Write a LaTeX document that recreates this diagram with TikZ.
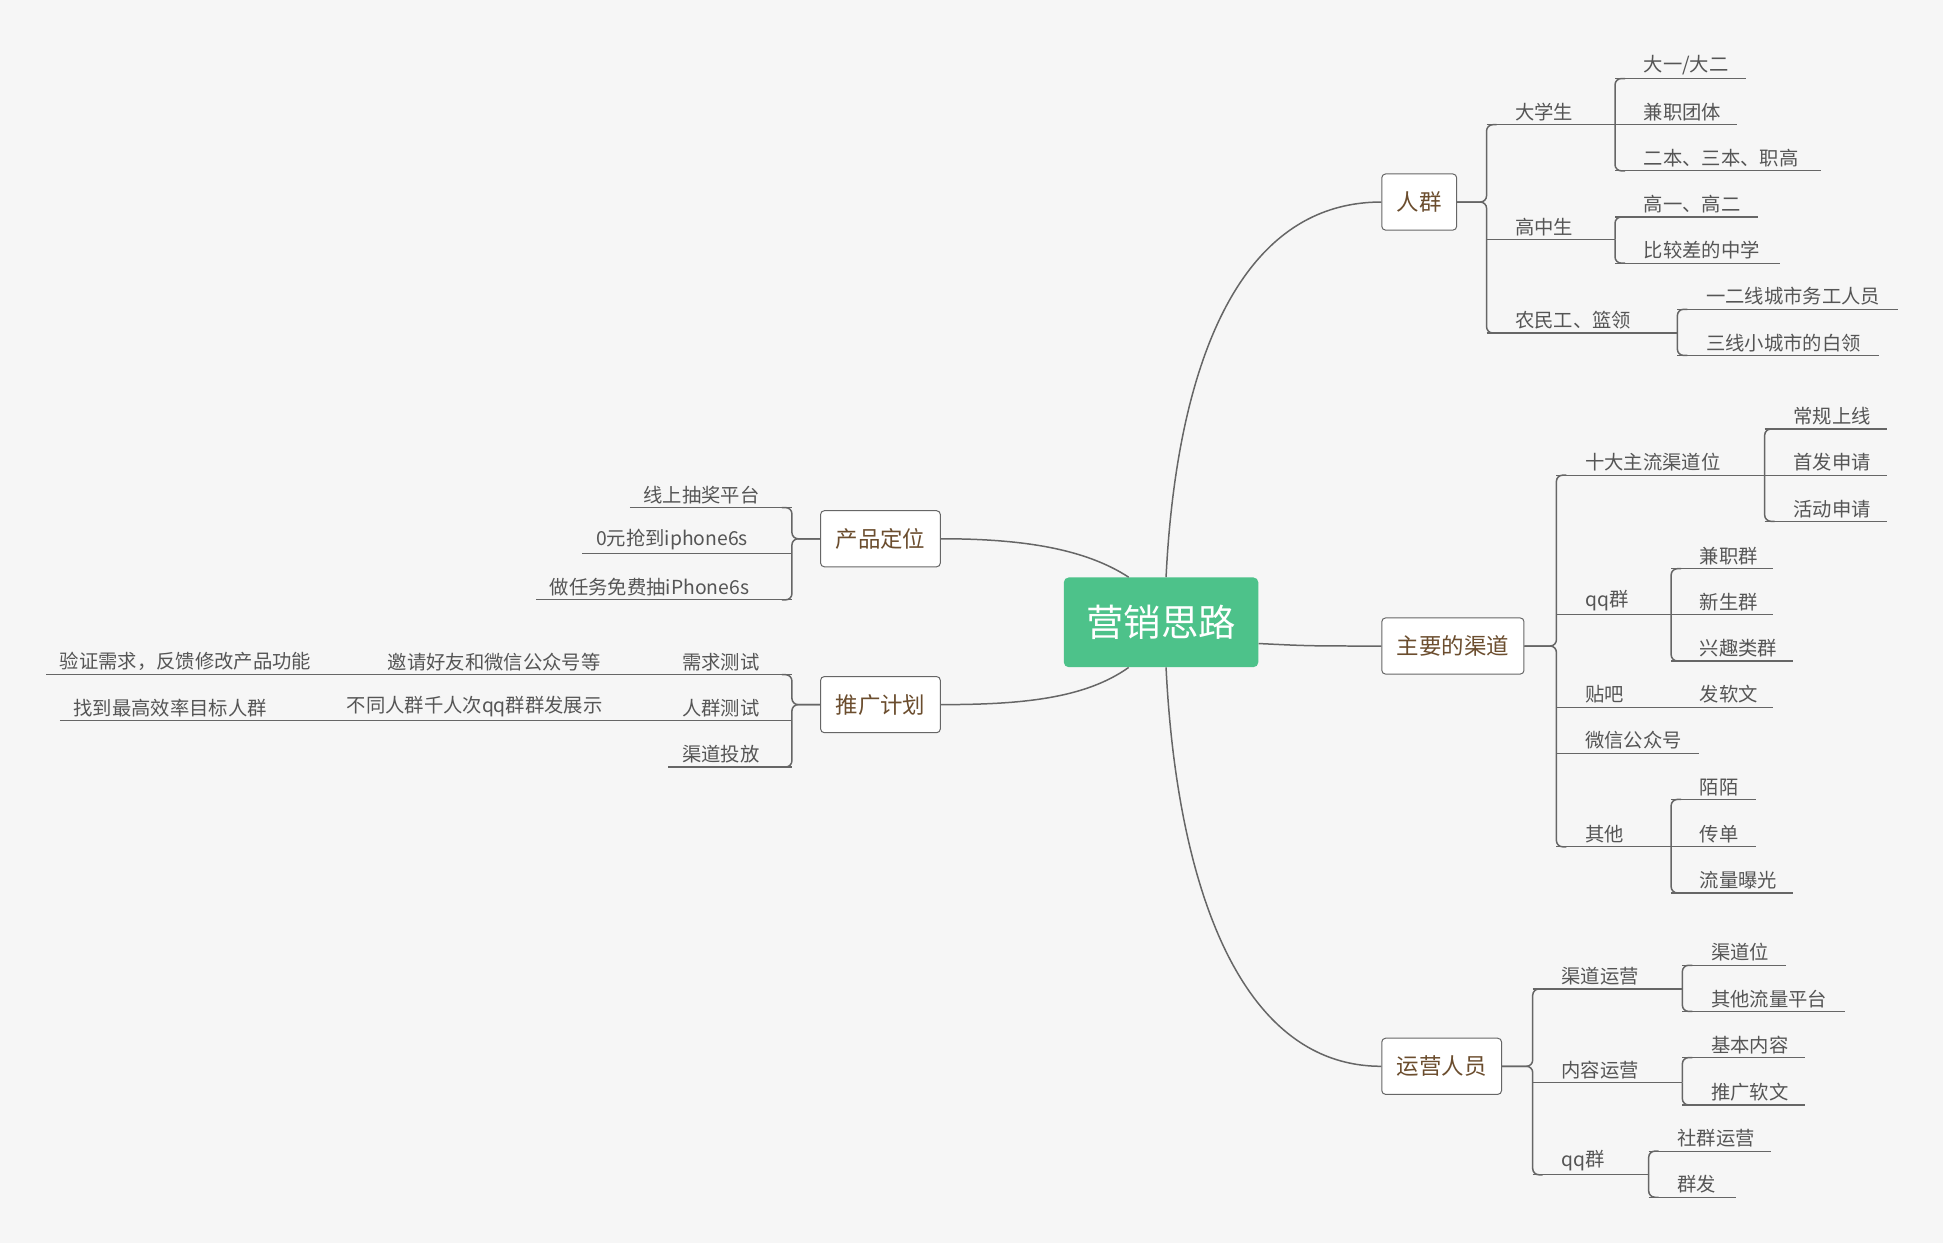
\documentclass[tikz,border=0pt]{standalone}
\usepackage{fontspec}
\setmainfont{Noto Sans CJK SC}
\usepackage{xcolor}
\definecolor{bgcol}{HTML}{F6F6F6}
\definecolor{linecol}{HTML}{666666}
\definecolor{txtcol}{HTML}{555555}
\definecolor{boxtxt}{HTML}{6B4D2E}
\definecolor{rootcol}{HTML}{4DC28A}
\tikzset{
  conn/.style={linecol, line width=1.2pt, rounded corners=5pt},
  uline/.style={linecol, line width=0.9pt},
  leaf/.style={inner xsep=0pt, inner ysep=3pt, outer sep=0pt, text=txtcol, font=\fontsize{15.5}{17}\selectfont},
  topic/.style={draw=linecol, fill=white, rounded corners=3pt, line width=0.8pt, minimum height=45pt, inner xsep=12pt, text=boxtxt, font=\fontsize{18}{20}\selectfont},
  root/.style={fill=rootcol, rounded corners=4pt, minimum width=156pt, minimum height=72pt, text=white, font=\fontsize{30}{32}\selectfont},
}
% right leaf: name, x start, x end, y, text
\newcommand\rleaf[5]{%
  \pgfmathsetmacro\lw{#3-#2}%
  \node[leaf, anchor=south west] (#1) at (#2,#4) {\makebox[\lw pt][l]{\hspace{23pt}#5}};
  \draw[uline] (#1.south west) -- (#1.south east);}
% left leaf: name, x start, x end, y, text
\newcommand\lleaf[5]{%
  \pgfmathsetmacro\lw{#3-#2}%
  \node[leaf, anchor=south east] (#1) at (#3,#4) {\makebox[\lw pt][l]{\hspace{11pt}#5}};
  \draw[uline] (#1.south west) -- (#1.south east);}
\newcommand\rlink[2]{\draw[conn] (#1.south east) |- ([xshift=8pt]#2.south west);}
\newcommand\rbox[2]{\draw[conn] (#1.east) -- (#1.east -| #2.south west) |- ([xshift=8pt]#2.south west);}
\newcommand\lbox[2]{\draw[conn] (#1.west) -- (#1.west -| #2.south east) |- ([xshift=-8pt]#2.south east);}

\begin{document}
\begin{tikzpicture}[x=1pt, y=-1pt]
  \fill[bgcol] (0,0) rectangle (1558,997);
  \useasboundingbox (0,0) rectangle (1558,997);
  %ROOT AND TOPICS
  \node[root] (root) at (931,499) {营销思路};
  \node[topic] (crowd) at (1138,162) {人群};
  \node[topic] (chan) at (1165,518) {主要的渠道};
  \node[topic] (ops) at (1156,855) {运营人员};
  \node[topic] (prod) at (706,432) {产品定位};
  \node[topic] (plan) at (706,565) {推广计划};
  \draw[conn] ([xshift=4pt]root.north) .. controls (943,300) and (990,162) .. (crowd.west);
  \draw[conn] ([xshift=4pt]root.south) .. controls (943,700) and (990,855) .. (ops.west);
  \draw[conn] ([yshift=-17pt]root.east) .. controls (1050,518) .. (chan.west);
  \draw[conn] ([xshift=-26pt]root.north) .. controls (870,440) and (820,432) .. (prod.east);
  \draw[conn] ([xshift=-26pt]root.south) .. controls (870,560) and (820,565) .. (plan.east);
  %RENQUN
  \rleaf{dxs}{1192}{1295}{100}{大学生}
  \rleaf{gzs}{1192}{1295}{192}{高中生}
  \rleaf{nmg}{1192}{1345}{267}{农民工、篮领}
  \rbox{crowd}{dxs} \rbox{crowd}{nmg}
  \rleaf{dxa}{1295}{1400}{63}{大一/大二}
  \rleaf{dxb}{1295}{1393}{100}{兼职团体}
  \rleaf{dxc}{1295}{1460}{137}{二本、三本、职高}
  \rlink{dxs}{dxa} \rlink{dxs}{dxc}
  \rleaf{gza}{1295}{1410}{174}{高一、高二}
  \rleaf{gzb}{1295}{1427}{211}{比较差的中学}
  \rlink{gzs}{gza} \rlink{gzs}{gzb}
  \rleaf{nma}{1345}{1522}{248}{一二线城市务工人员}
  \rleaf{nmb}{1345}{1507}{285}{三线小城市的白领}
  \rlink{nmg}{nma} \rlink{nmg}{nmb}
  %QUDAO
  \rleaf{sd}{1248}{1415}{381}{十大主流渠道位}
  \rleaf{qq}{1248}{1340}{493}{qq群}
  \rleaf{tb}{1248}{1340}{567}{贴吧}
  \rleaf{wx}{1248}{1362}{604}{微信公众号}
  \rleaf{qt}{1248}{1340}{679}{其他}
  \rbox{chan}{sd} \rbox{chan}{qt}
  \rleaf{sda}{1415}{1513}{344}{常规上线}
  \rleaf{sdb}{1415}{1513}{381}{首发申请}
  \rleaf{sdc}{1415}{1513}{418}{活动申请}
  \rlink{sd}{sda} \rlink{sd}{sdc}
  \rleaf{qqa}{1340}{1422}{456}{兼职群}
  \rleaf{qqb}{1340}{1422}{493}{新生群}
  \rleaf{qqc}{1340}{1438}{530}{兴趣类群}
  \rlink{qq}{qqa} \rlink{qq}{qqc}
  \rleaf{tba}{1340}{1422}{567}{发软文}
  \rleaf{qta}{1340}{1408}{641}{陌陌}
  \rleaf{qtb}{1340}{1408}{679}{传单}
  \rleaf{qtc}{1340}{1438}{716}{流量曝光}
  \rlink{qt}{qta} \rlink{qt}{qtc}
  %YUNYING
  \rleaf{qdy}{1229}{1349}{793}{渠道运营}
  \rleaf{nry}{1229}{1349}{868}{内容运营}
  \rleaf{qqy}{1229}{1322}{942}{qq群}
  \rbox{ops}{qdy} \rbox{ops}{qqy}
  \rleaf{qda}{1349}{1432}{774}{渠道位}
  \rleaf{qdb}{1349}{1479}{811}{其他流量平台}
  \rlink{qdy}{qda} \rlink{qdy}{qdb}
  \rleaf{nra}{1349}{1447}{848}{基本内容}
  \rleaf{nrb}{1349}{1447}{886}{推广软文}
  \rlink{nry}{nra} \rlink{nry}{nrb}
  \rleaf{qqya}{1322}{1420}{923}{社群运营}
  \rleaf{qqyb}{1322}{1392}{960}{群发}
  \rlink{qqy}{qqya} \rlink{qqy}{qqyb}
  %CHANPIN
  \lleaf{cpa}{505}{635}{407}{线上抽奖平台}
  \lleaf{cpb}{467}{635}{444}{0元抢到iphone6s}
  \lleaf{cpc}{430}{635}{481}{做任务免费抽iPhone6s}
  \lbox{prod}{cpa} \lbox{prod}{cpc}
  %TUIGUANG
  \lleaf{xq}{536}{635}{541}{需求测试}
  \lleaf{rq}{536}{635}{578}{人群测试}
  \lleaf{qdt}{536}{635}{615}{渠道投放}
  \lbox{plan}{xq} \lbox{plan}{qdt}
  \lleaf{xqa}{300}{536}{541}{邀请好友和微信公众号等}
  \lleaf{xqb}{37}{300}{541}{验证需求，反馈修改产品功能}
  \lleaf{rqa}{267}{536}{578}{不同人群千人次qq群群发展示}
  \lleaf{rqb}{48}{267}{578}{找到最高效率目标人群}
\end{tikzpicture}
\end{document}
